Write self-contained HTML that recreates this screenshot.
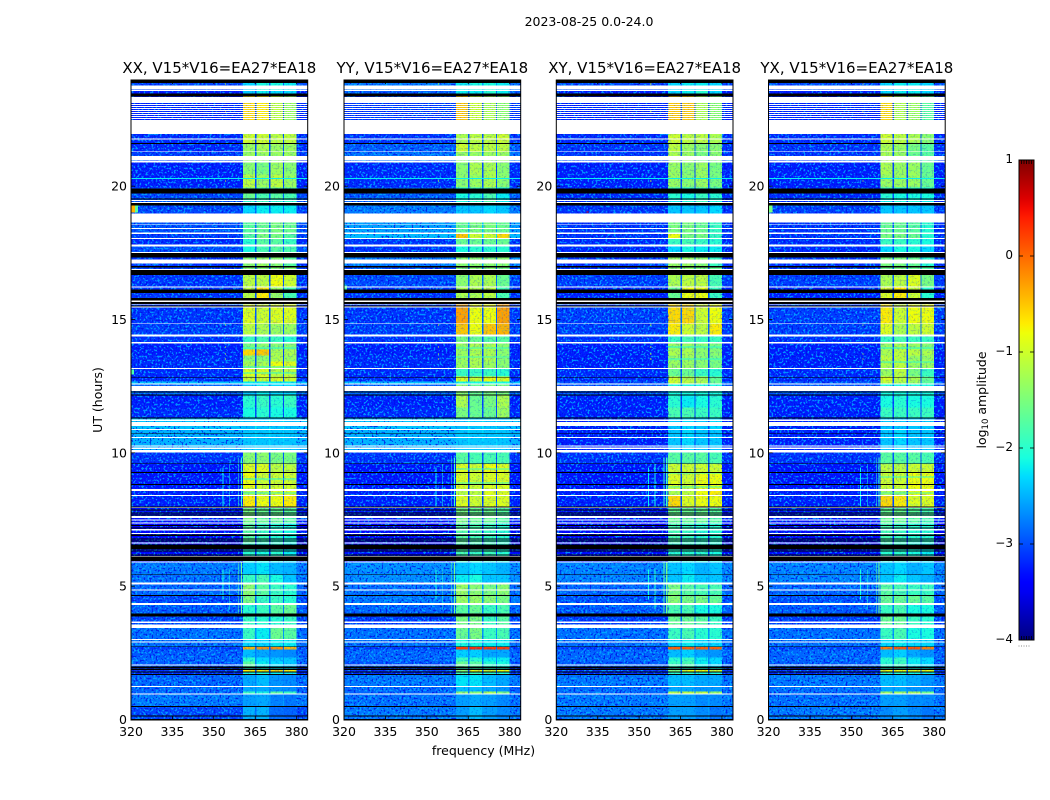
<!DOCTYPE html>
<html lang="en">
<head>
<meta charset="utf-8">
<title>2023-08-25 amplitude waterfall</title>
<style>
html,body{margin:0;padding:0;background:#fff;}
svg{display:block;font-family:"DejaVu Sans","Liberation Sans",sans-serif;fill:#000;}
</style>
</head>
<body>
<svg id="chart" xmlns="http://www.w3.org/2000/svg" width="1050" height="800" viewBox="0 0 1050 800">
<defs>
<filter id="speckle" x="0" y="0" width="1" height="1" color-interpolation-filters="sRGB">
<feTurbulence type="fractalNoise" baseFrequency="0.5" numOctaves="1" seed="7" result="n"/>
<feColorMatrix in="n" type="matrix" values="0 0 0 0 0  0 0 0 0 .72  0 0 0 0 1  9 0 0 0 -4.7" result="light"/>
<feColorMatrix in="n" type="matrix" values="0 0 0 0 0  0 0 0 0 .05  0 0 0 0 .9  0 9 0 0 -5.1" result="dark"/>
<feMerge><feMergeNode in="light"/><feMergeNode in="dark"/></feMerge>
</filter>
<linearGradient id="colorbar-gradient" x1="0" y1="1" x2="0" y2="0"></linearGradient>
</defs>
<text x="589" y="26" font-size="12.5" text-anchor="middle">2023-08-25 0.0-24.0</text>
<text x="483.5" y="755" font-size="12.5" text-anchor="middle">frequency (MHz)</text>
<text x="102" y="400" font-size="12.5" text-anchor="middle" transform="rotate(-90 102 400)">UT (hours)</text>
<text x="986" y="400" font-size="12.5" text-anchor="middle" transform="rotate(-90 986 400)">log<tspan font-size="8.5" dy="2">10</tspan><tspan dy="-2"> amplitude</tspan></text>
<g id="panels"></g>
<g id="colorbar"></g>
</svg>
<script>
// One time slot = 2.25 minutes (0.0375 h). Band rows: [start slot, background, sub-band 1..4] in log10 amplitude.
const xxBands=[
[0,-3.05,-2.5,-2.5,-2.85,-2.9],[13,-2.8,-2.6,-2.55,-2.75,-2.8],[26,-2.9,-1.9,-2.1,-1.7,-1.9],[28,-2.9,-2.55,-2.55,-2.65,-2.7],
[33,-2.9,-2.55,-2.45,-2.65,-2.7],[45,-3.2,-2.1,-2.1,-2.2,-2.2],[48,-3.1,-0.7,-0.7,-0.6,-0.7],[50,-3.2,-2.0,-2.1,-2.2,-2.2],
[52,-2.95,-1.7,-2.2,-2.3,-2.4],[58,-2.9,-2.0,-2.3,-2.4,-2.4],[62,-2.95,-2.45,-2.55,-2.65,-2.7],[70,-3.1,-0.4,-0.2,-0.2,-0.4],
[73,-2.85,-2.3,-2.3,-2.2,-2.2],[80,-2.85,-1.9,-2.2,-1.6,-1.7],[92,-3.05,-1.9,-2.0,-2.0,-1.9],[103,-2.95,-2.0,-1.9,-1.7,-1.6],
[116,-3.05,-1.5,-1.9,-1.9,-2.0],[124,-2.9,-1.4,-1.7,-1.9,-2.0],[135,-2.85,-1.9,-1.8,-2.1,-2.4],[145,-2.8,-2.35,-2.25,-2.45,-2.5],
[157,-3.35,-2.0,-2.1,-2.0,-2.2],[176,-3.4,-1.7,-1.9,-2.0,-2.1],[197,-3.3,-1.5,-1.6,-1.6,-1.7],[213,-3.25,-0.7,-0.8,-0.8,-0.7],
[224,-3.25,-1.2,-1.1,-0.9,-0.9],[231,-3.3,-0.8,-1.0,-1.0,-1.0],[247,-3.3,-0.9,-0.9,-1.1,-1.1],[256,-3.15,-1.4,-1.4,-1.5,-1.5],
[268,-2.5,-2.4,-2.4,-2.4,-2.4],[290,-2.4,-2.45,-2.4,-2.4,-2.45],[302,-3.2,-2.1,-2.0,-2.1,-2.1],[312,-3.25,-2.0,-1.9,-2.0,-1.9],
[324,-2.9,-2.4,-2.2,-2.3,-2.3],[336,-2.4,-2.2,-2.2,-2.2,-2.2],[338,-3.2,-1.0,-1.0,-0.9,-1.0],[343,-3.2,-0.9,-0.9,-1.1,-1.1],
[351,-3.2,-1.2,-1.2,-0.8,-0.9],[358,-3.2,-1.4,-1.4,-1.2,-1.3],[364,-3.25,-0.6,-0.5,-1.2,-1.2],[370,-3.25,-1.5,-1.4,-1.4,-1.4],
[376,-3.15,-1.9,-1.8,-1.9,-2.0],[385,-3.1,-1.1,-1.2,-1.3,-1.3],[396,-3.15,-0.9,-1.0,-0.9,-0.9],[421,-3.15,-1.1,-0.7,-1.3,-1.8],
[433,-3.15,-1.1,-1.1,-0.8,-1.0],[445,-3.05,-1.4,-1.4,-1.4,-1.4],[452,-3.15,-1.4,-1.3,-1.4,-1.7],[467,-3.0,-2.1,-1.8,-1.7,-1.8],
[475,-3.2,-2.0,-1.7,-1.7,-1.9],[481,-3.1,-1.7,-1.5,-1.5,-1.7],[487,-3.0,-1.7,-1.6,-1.5,-1.6],[506,-3.05,-2.3,-2.2,-2.2,-2.2],
[516,-3.0,-2.0,-1.9,-2.0,-2.0],[521,-3.05,-1.6,-1.8,-1.7,-1.8],[532,-3.25,-1.1,-1.3,-1.1,-1.3],[545,-3.25,-1.4,-1.5,-1.3,-1.4],
[558,-3.1,-1.3,-1.3,-1.3,-1.3],[568,-3.2,-1.3,-1.2,-1.3,-1.3],[576,-3.2,-1.0,-1.0,-1.1,-1.1],[599.5,-3.25,-0.6,-0.7,-1.1,-1.3],
[623,-3.25,-2.4,-2.2,-2.3,-2.3],[630,-3.05,-2.3,-2.1,-2.1,-2.2]
];
const yyBands=[
[0,-2.8,-2.6,-2.45,-2.6,-2.7],[13,-2.85,-2.6,-2.55,-2.6,-2.7],[26,-2.9,-1.4,-1.4,-1.2,-1.5],[28,-2.9,-2.45,-2.45,-2.55,-2.65],
[33,-2.8,-2.25,-2.25,-2.45,-2.55],[45,-3.2,-1.9,-1.9,-2.0,-2.1],[48,-3.1,-1.4,-0.8,-0.9,-0.8],[50,-3.2,-1.9,-1.9,-2.0,-2.1],
[52,-3.0,-1.6,-1.7,-2.0,-2.1],[58,-2.9,-1.9,-2.0,-2.2,-2.2],[62,-2.9,-2.35,-2.35,-2.55,-2.55],[70,-3.1,0.25,0.3,0.25,0.25],
[73,-2.85,-2.1,-2.1,-2.2,-2.2],[80,-2.85,-1.6,-1.5,-1.9,-1.8],[92,-3.1,-1.5,-1.5,-1.9,-1.7],[103,-2.9,-1.7,-1.6,-1.9,-1.8],
[116,-2.8,-1.3,-1.3,-1.4,-1.5],[124,-2.85,-1.3,-1.4,-1.5,-1.4],[135,-2.7,-2.2,-2.1,-2.4,-2.4],[145,-2.7,-2.4,-2.3,-2.4,-2.5],
[157,-3.35,-1.8,-1.9,-1.9,-2.0],[176,-3.4,-1.7,-1.8,-1.9,-2.0],[197,-3.3,-1.5,-1.6,-1.6,-1.7],[213,-3.25,-0.9,-1.0,-0.9,-0.9],
[224,-3.25,-1.1,-1.1,-0.9,-0.9],[231,-3.3,-0.9,-1.0,-0.9,-0.9],[247,-3.3,-0.9,-1.0,-0.8,-0.9],[256,-3.15,-1.7,-1.8,-1.8,-1.8],
[268,-2.5,-2.4,-2.4,-2.4,-2.4],[290,-2.4,-2.45,-2.4,-2.4,-2.45],[302,-3.2,-1.5,-1.6,-1.6,-1.3],[312,-3.25,-1.2,-1.6,-1.5,-1.2],
[324,-2.9,-1.4,-1.6,-1.5,-1.5],[336,-2.4,-2.1,-2.1,-2.1,-2.1],[338,-3.2,-0.9,-1.0,-0.8,-0.9],[343,-3.2,-1.9,-1.9,-1.9,-2.0],
[351,-3.2,-1.3,-1.2,-1.3,-1.4],[358,-3.2,-1.3,-1.2,-1.2,-1.4],[364,-3.25,-1.3,-1.2,-1.2,-1.4],[370,-3.25,-1.3,-1.2,-1.2,-1.4],
[376,-3.15,-1.5,-1.6,-1.7,-1.7],[385,-3.1,-0.5,-0.8,-0.5,-0.4],[396,-3.15,-0.3,-0.8,-0.8,-0.3],[421,-3.15,-1.2,-1.2,-1.1,-1.8],
[433,-3.05,-1.4,-1.2,-1.2,-1.6],[445,-3.05,-1.4,-1.4,-1.4,-1.5],[452,-2.8,-1.4,-1.4,-1.4,-1.4],[467,-3.15,-2.1,-2.0,-2.0,-2.0],
[475,-3.15,-1.6,-1.6,-1.6,-1.6],[481,-2.45,-0.5,-1.0,-1.0,-0.6],[487,-2.6,-1.6,-1.5,-1.5,-1.6],[506,-2.8,-2.4,-2.4,-2.3,-2.4],
[516,-2.95,-2.1,-2.0,-1.8,-2.2],[521,-2.95,-2.1,-2.0,-1.8,-2.2],[532,-3.2,-1.4,-1.3,-1.2,-1.4],[545,-3.2,-1.4,-1.2,-1.2,-1.4],
[558,-2.85,-1.3,-1.3,-1.3,-1.3],[568,-2.95,-1.0,-1.1,-1.1,-1.1],[576,-3.15,-1.2,-1.1,-1.1,-1.0],[599.5,-3.15,-0.5,-1.0,-1.2,-1.4],
[623,-2.95,-2.2,-2.2,-2.0,-2.2],[630,-2.8,-2.2,-2.1,-2.1,-2.2]
];
const xyBands=[
[0,-2.8,-2.6,-2.6,-2.7,-2.8],[13,-2.8,-2.6,-2.6,-2.7,-2.7],[26,-2.9,-1.1,-1.1,-1.1,-1.3],[28,-2.85,-2.55,-2.55,-2.65,-2.65],
[33,-2.8,-2.45,-2.45,-2.55,-2.55],[45,-3.2,-2.0,-2.0,-2.1,-2.1],[48,-3.1,-1.5,-0.8,-0.8,-1.0],[50,-3.2,-2.0,-2.0,-2.1,-2.1],
[52,-2.95,-1.9,-1.8,-2.2,-2.3],[58,-2.9,-2.0,-1.9,-2.2,-2.3],[62,-2.9,-2.45,-2.35,-2.55,-2.65],[70,-3.1,0.05,0.05,0.05,0.05],
[73,-2.85,-2.3,-2.2,-2.3,-2.3],[80,-2.85,-1.9,-1.8,-2.0,-2.0],[92,-3.1,-1.6,-1.6,-1.7,-1.9],[103,-2.95,-1.8,-1.8,-2.1,-2.1],
[116,-3.0,-1.4,-1.5,-1.5,-1.6],[124,-2.9,-1.5,-1.7,-1.8,-1.8],[135,-2.75,-2.4,-2.2,-2.4,-2.4],[145,-2.75,-2.4,-2.3,-2.5,-2.4],
[157,-3.35,-2.0,-2.0,-2.0,-2.1],[176,-3.4,-1.8,-1.9,-2.0,-2.0],[197,-3.3,-1.6,-1.6,-1.6,-1.7],[213,-3.25,-0.6,-0.9,-0.8,-0.8],
[224,-3.25,-1.2,-1.1,-0.8,-0.7],[231,-3.3,-0.9,-1.0,-0.8,-0.8],[247,-3.3,-1.0,-1.0,-1.0,-1.0],[256,-3.15,-1.7,-1.7,-1.7,-1.8],
[268,-3.25,-2.4,-2.3,-2.4,-2.4],[290,-3.25,-2.4,-2.3,-2.4,-2.3],[302,-3.25,-1.8,-1.8,-1.9,-1.9],[312,-3.25,-2.0,-2.2,-2.1,-2.0],
[324,-3.0,-2.1,-2.1,-2.1,-2.1],[336,-3.0,-1.0,-1.1,-1.2,-1.6],[338,-3.2,-1.0,-1.1,-1.2,-1.6],[343,-3.2,-1.6,-1.6,-1.9,-2.0],
[351,-3.25,-1.3,-1.3,-1.4,-1.5],[358,-3.25,-1.3,-1.3,-1.4,-1.5],[364,-3.25,-1.2,-1.2,-1.4,-1.4],[370,-3.25,-1.3,-1.3,-1.4,-1.5],
[376,-3.15,-1.9,-1.8,-1.9,-1.9],[385,-3.1,-0.7,-1.0,-1.1,-0.7],[396,-3.1,-0.6,-0.6,-1.0,-0.8],[421,-3.25,-1.6,-0.8,-0.8,-1.9],
[433,-3.1,-1.2,-1.1,-1.1,-1.8],[445,-3.15,-1.4,-1.4,-1.5,-1.6],[452,-3.15,-1.3,-1.3,-1.4,-1.9],[467,-3.2,-2.3,-2.1,-2.2,-2.2],
[475,-3.2,-1.9,-1.8,-1.9,-2.0],[481,-3.15,-0.8,-1.5,-1.5,-1.9],[487,-3.15,-1.5,-1.5,-1.6,-1.9],[506,-3.15,-2.4,-2.4,-2.4,-2.3],
[516,-3.2,-2.2,-2.1,-1.9,-2.1],[521,-3.2,-2.0,-2.1,-1.9,-2.0],[532,-3.25,-1.3,-1.4,-1.3,-1.5],[545,-3.25,-1.3,-1.4,-1.3,-1.5],
[558,-3.15,-1.2,-1.3,-1.5,-1.4],[568,-3.15,-1.1,-1.3,-1.4,-1.4],[576,-3.2,-1.0,-1.1,-1.1,-1.2],[599.5,-3.25,-0.5,-0.5,-1.2,-1.4],
[623,-3.25,-2.3,-2.2,-2.0,-2.3],[630,-3.05,-2.3,-2.2,-2.2,-2.3]
];
const yxBands=[
[0,-2.8,-2.7,-2.6,-2.7,-2.8],[13,-2.85,-2.6,-2.6,-2.7,-2.7],[26,-2.9,-1.3,-1.3,-1.2,-1.6],[28,-2.85,-2.55,-2.55,-2.65,-2.65],
[33,-2.8,-2.45,-2.45,-2.55,-2.65],[45,-3.2,-2.0,-2.0,-2.1,-2.2],[48,-3.1,-0.8,-0.8,-0.8,-0.8],[50,-3.2,-2.0,-2.0,-2.1,-2.2],
[52,-2.95,-2.0,-1.9,-2.2,-2.3],[58,-2.9,-2.0,-1.9,-2.2,-2.3],[62,-2.9,-2.45,-2.35,-2.55,-2.65],[70,-3.1,-0.1,0.1,0.1,-0.1],
[73,-2.85,-2.3,-2.2,-2.3,-2.3],[80,-2.85,-1.9,-1.8,-2.1,-2.1],[92,-3.1,-1.6,-1.6,-1.9,-2.0],[103,-2.95,-1.9,-1.8,-2.1,-2.1],
[116,-3.0,-1.6,-1.6,-1.6,-1.7],[124,-2.9,-1.7,-1.8,-1.9,-1.9],[135,-2.75,-2.4,-2.2,-2.4,-2.5],[145,-2.75,-2.4,-2.3,-2.5,-2.4],
[157,-3.35,-2.0,-2.0,-2.1,-2.2],[176,-3.4,-1.8,-1.9,-2.0,-2.0],[197,-3.3,-1.6,-1.6,-1.7,-1.8],[213,-3.25,-0.6,-0.7,-0.9,-0.9],
[224,-3.25,-1.2,-1.2,-0.8,-0.8],[231,-3.3,-1.0,-1.0,-0.8,-0.8],[247,-3.3,-1.1,-1.1,-1.0,-1.0],[256,-3.15,-1.7,-1.7,-1.7,-1.8],
[268,-3.25,-2.4,-2.3,-2.4,-2.4],[290,-3.25,-2.4,-2.4,-2.4,-2.4],[302,-3.25,-1.9,-1.9,-1.9,-1.9],[312,-3.25,-2.1,-2.0,-2.1,-2.1],
[324,-3.0,-2.1,-2.1,-2.1,-2.1],[336,-3.0,-1.1,-1.2,-1.3,-1.7],[338,-3.2,-0.9,-1.1,-1.2,-1.6],[343,-3.2,-1.3,-1.1,-1.5,-1.9],
[351,-3.25,-1.2,-1.1,-1.3,-1.3],[358,-3.25,-1.1,-1.1,-1.3,-1.3],[364,-3.25,-1.2,-1.1,-1.1,-1.2],[370,-3.25,-1.3,-1.2,-1.3,-1.4],
[376,-3.15,-1.9,-1.8,-1.9,-1.9],[385,-3.1,-0.9,-1.2,-1.1,-1.0],[396,-3.1,-0.7,-1.0,-0.8,-0.8],[421,-3.25,-0.9,-0.7,-1.0,-2.0],
[433,-3.1,-1.2,-1.1,-0.9,-1.5],[445,-3.15,-1.5,-1.5,-1.6,-1.7],[452,-3.15,-1.5,-1.5,-1.6,-2.0],[467,-3.2,-2.3,-2.1,-2.1,-2.3],
[475,-3.2,-1.9,-1.9,-2.0,-2.1],[481,-3.15,-1.5,-1.5,-1.6,-2.0],[487,-3.15,-1.6,-1.6,-1.7,-2.0],[506,-3.1,-2.4,-2.4,-2.4,-2.4],
[516,-3.2,-2.2,-2.1,-2.1,-2.2],[521,-3.2,-2.0,-2.1,-2.1,-2.1],[532,-3.25,-1.3,-1.3,-1.3,-1.6],[545,-3.25,-1.2,-1.3,-1.3,-1.6],
[558,-3.15,-1.2,-1.3,-1.6,-1.7],[568,-3.15,-1.2,-1.3,-1.5,-1.7],[576,-3.2,-1.0,-1.1,-1.2,-1.4],[599.5,-3.25,-0.6,-1.2,-1.3,-1.7],
[623,-3.25,-2.3,-2.2,-2.2,-2.3],[630,-3.05,-2.3,-2.2,-2.2,-2.3]
];
// Spectral features: [freq start, freq end, slot start, slot end, log10 amplitude]
const sharedFeatures=[
[320,384,540.8,541.4,-2.2],[353.2,353.5,212,252,-2.2],[355.6,355.9,212,256,-2.1],[358.9,359.2,212,262,-1.9],[359.8,360.2,212,262,-1.9],
[353.2,353.5,120,150,-2.1],[355.6,355.9,110,150,-2.0],[358.9,359.2,105,157,-1.7],[359.8,360.2,105,157,-1.6],
[354,354.4,394,395,-1],[354,354.4,384,385,-1],[354,354.4,372,373,-1],[354,354.4,365,366,-1],[354,354.4,360,361,-1],
[354,354.4,635,636,-1],[354,354.4,620,621,-0.7],[354,354.4,608,609,-0.7],[354,354.4,538,539,-1]
];
const xxFeatures=[[320,321.5,507,514,-0.4],[321.5,322.5,507,514,-1.7],[320,321,345,350,-1.8],[350,358,295,296,-0.6],
[360.5,380,371,372,-2.0],[360.5,380,352,353,-2.0],[360.5,380,346,347,-1.9],[360.5,380,240,241,-2.0],[360.5,380,226,227,-1.9]];
const yyFeatures=[[320,321,430,434,-1.8],[360.5,380,371,372,-1.9],[360.5,380,362,363,-1.8],[360.5,380,250,251,-1.9],[360.5,380,236,237,-1.9]];
const xyFeatures=[[351,358,295,296,-0.5],[331,331.6,507,508,0.6],[360.5,380,372,373,-2.0],[360.5,380,360,361,-2.0],[360.5,380,246,247,-2.0],[360.5,380,232,233,-1.9]];
const yxFeatures=[[320,321.5,507,514,-1.5],[360.5,380,371,372,-2.0],[360.5,380,357,358,-1.9],[360.5,380,242,243,-1.9],[360.5,380,226,227,-1.8]];
// Flagged time ranges: [slot start, slot end]
const whiteRanges=[
[628.5,629.8],[630.5,634.2],[616.5,622.5],[614.5,615.5],[612.5,613.5],[610.5,611.5],[608.5,609.5],[606.5,607.5],[604.5,605.5],[602.5,603.5],[600.5,601.5],
[585.5,599.5],[579.8,580.8],[567.5,568.2],[559.5,563.5],[557.2,558.8],[518.5,519.5],[516.5,517.5],[496.8,506.2],[494.5,495.2],[490.5,491.5],[485.5,487.2],[480.5,481.5],
[472.8,474.8],[466.5,467.5],[455.8,460.2],[449.5,450.5],[432.2,433.2],[417.5,418.8],[414.5,415.2],[411.8,412.8],[395.5,396.2],[382.8,384.8],[375.8,377.5],[350.5,351.5],
[335.2,336.2],[328.5,333.5],[298.5,300.2],[293.5,297.5],[289.5,290.5],[281.5,282.5],[273.2,274.2],[270.5,272.2],[266.8,269.5],[228.5,230.5],[223.5,224.5],[211.5,212.2],
[201.5,203.5],[198.8,200.2],[196.2,197.2],[189.2,190.5],[185.5,186.5],[175.8,177.2],[162.8,163.5],[156.8,157.8],[134.8,136.8],[128.8,129.8],[114.5,116.5],[96.5,97.8],
[91.5,94.8],[79.5,80.5],[77.2,78.2],[54.2,55.2],[32.5,33.5],[25.2,26.2]
];
const blackRanges=[
[636.5,640],[623.2,625.8],[575.5,576.5],[526.2,530.8],[520.2,520.8],[514.2,516.5],[462.2,466.5],[452.2,453.5],[444.5,449.5],[426.5,430.2],[419.2,421.5],[415.5,417.5],
[412.8,414.2],[341.5,342.2],[327.2,328],[324,324.8],[301.2,301.8],[285.5,286.2],[255.5,256.2],[246.5,247.5],[234.5,235.5],[212.2,213.2],[209.2,210.2],[206.2,206.8],
[203.8,204.8],[193.5,194.5],[190.8,191.8],[183.5,184.8],[180.2,181.2],[178.2,179.2],[169.8,175.2],[168.2,169.2],[163.8,164.8],[158.5,162.8],[144.5,145.2],[123.8,124.5],
[102.8,106.2],[72.5,73.2],[51.2,52.8],[49.5,50.5],[46.8,47.8],[44.8,45.5],[12.8,13.5],[2.8,3.8],[0,0.6]
];
// Sub-band frequency edges in MHz
const subBandEdges=[[360.5,365],[365.5,370],[370.5,375],[375.5,380]];
const freqTicks=[320,335,350,365,380];
const utTicks=[0,5,10,15,20];
const colorTicks=[1,0,-1,-2,-3,-4];
const panelTitles=["XX, V15*V16=EA27*EA18","YY, V15*V16=EA27*EA18","XY, V15*V16=EA27*EA18","YX, V15*V16=EA27*EA18"];

const NS="http://www.w3.org/2000/svg";
const panelLefts=[131,344,556.3,768.5];
const panelWidth=176.7,plotTop=80,plotBottom=720;
const freqMin=320,freqMax=384,slotHours=0.0375,logMin=-4,logMax=1;

function interp(points,t){
  for(let i=1;i<points.length;i++){
    if(t<=points[i][0]){
      const a=points[i-1],b=points[i];
      return a[1]+(b[1]-a[1])*(t-a[0])/(b[0]-a[0]);
    }
  }
  return points[points.length-1][1];
}
function jet(value){
  const t=Math.max(0,Math.min(1,(value-logMin)/(logMax-logMin)));
  const r=interp([[0,0],[.35,0],[.66,1],[.89,1],[1,.5]],t);
  const g=interp([[0,0],[.125,0],[.375,1],[.64,1],[.91,0],[1,0]],t);
  const b=interp([[0,.5],[.11,1],[.34,1],[.65,0],[1,0]],t);
  return "rgb("+Math.round(r*255)+","+Math.round(g*255)+","+Math.round(b*255)+")";
}
function make(tag,attrs,parent){
  const el=document.createElementNS(NS,tag);
  for(const k in attrs){el.setAttribute(k,attrs[k]);}
  parent.appendChild(el);
  return el;
}
function xScale(left,freq){return left+(freq-freqMin)/(freqMax-freqMin)*panelWidth;}
function yScaleUT(ut){return 719.5-ut*(640/24);}
function slotY(slot){return yScaleUT(slot*slotHours);}
function heatRect(group,left,f0,f1,s0,s1,value,name){
  const x0=xScale(left,f0),x1=xScale(left,f1),y0=slotY(s1),y1=slotY(s0);
  const el=make("rect",{x:x0,y:y0,width:Math.max(x1-x0,0.8),height:Math.max(y1-y0,0.8),fill:jet(value),"shape-rendering":"crispEdges"},group);
  
  
  return el;
}
function flagRect(group,left,range,color,name){
  const y0=slotY(Math.min(range[1],640)),y1=slotY(range[0]);
  const el=make("rect",{x:left,y:y0,width:panelWidth,height:Math.max(y1-y0,0.8),fill:color,"shape-rendering":"crispEdges"},group);
  
  
}
function drawPanel(root,index,bands,features){
  const left=panelLefts[index];
  const g=make("g",{},root);
  
  
  const clipId="clip-"+index;
  const clip=make("clipPath",{id:clipId},g);
  make("rect",{x:left,y:plotTop,width:panelWidth,height:plotBottom-plotTop},clip);
  const heat=make("g",{"clip-path":"url(#"+clipId+")"},g);
  
  
  bands.forEach(function(row,i){
    const s0=row[0],s1=i+1<bands.length?bands[i+1][0]:640,bg=row[1];
    heatRect(heat,left,freqMin,subBandEdges[0][0],s0,s1,bg,'background-cell');
    heatRect(heat,left,subBandEdges[3][1],freqMax,s0,s1,bg,'background-cell');
    subBandEdges.forEach(function(edge,k){
      heatRect(heat,left,edge[0],edge[1],s0,s1,row[2+k],'subband-cell');
      if(k<3){heatRect(heat,left,edge[1],subBandEdges[k+1][0],s0,s1,bg+0.2,'subband-gap-cell');}
    });
  });
  const tex1=make("rect",{x:xScale(left,freqMin),y:plotTop,width:xScale(left,subBandEdges[0][0])-xScale(left,freqMin),height:640,filter:"url(#speckle)",opacity:.75},heat);
  
  
  const tex2=make("rect",{x:xScale(left,subBandEdges[3][1]),y:plotTop,width:xScale(left,freqMax)-xScale(left,subBandEdges[3][1]),height:640,filter:"url(#speckle)",opacity:.75},heat);
  
  
  const tex3=make("rect",{x:xScale(left,subBandEdges[0][0]),y:plotTop,width:xScale(left,subBandEdges[3][1])-xScale(left,subBandEdges[0][0]),height:640,filter:"url(#speckle)",opacity:.2},heat);
  
  
  sharedFeatures.concat(features).forEach(function(f){
    heatRect(heat,left,f[0],f[1],f[2],f[3],f[4],'rfi-feature');
  });
  whiteRanges.forEach(function(r){flagRect(heat,left,r,"#fff",'blank-time-range');});
  blackRanges.forEach(function(r){flagRect(heat,left,r,"#000",'zero-time-range');});
  const frame=make("rect",{x:left,y:plotTop,width:panelWidth,height:plotBottom-plotTop,fill:"none",stroke:"#000","stroke-width":1},g);
  
  
  freqTicks.forEach(function(f){
    const x=xScale(left,f);
    const t1=make("line",{x1:x,x2:x,y1:plotBottom,y2:plotBottom-4,stroke:"#000","stroke-width":.8},g);
    
    
    const t2=make("line",{x1:x,x2:x,y1:plotTop,y2:plotTop+4,stroke:"#000","stroke-width":.8},g);
    
    
    const lab=make("text",{x:x,y:plotBottom+16,"font-size":12.5,"text-anchor":"middle"},g);
    lab.textContent=String(f);
    
    
  });
  utTicks.forEach(function(u){
    const y=yScaleUT(u);
    const t1=make("line",{x1:left,x2:left+4,y1:y,y2:y,stroke:"#000","stroke-width":.8},g);
    
    
    const t2=make("line",{x1:left+panelWidth,x2:left+panelWidth-4,y1:y,y2:y,stroke:"#000","stroke-width":.8},g);
    
    
    const lab=make("text",{x:left-4,y:y+4.5,"font-size":12.5,"text-anchor":"end"},g);
    lab.textContent=String(u);
    
    
  });
  const title=make("text",{x:left+panelWidth/2,y:73,"font-size":15,"text-anchor":"middle"},g);
  title.textContent=panelTitles[index];
  
  
}
function drawColorbar(root){
  const grad=document.getElementById("colorbar-gradient");
  for(let i=0;i<=50;i++){
    const stop=document.createElementNS(NS,"stop");
    stop.setAttribute("offset",(i*2)+"%");
    stop.setAttribute("stop-color",jet(logMin+(logMax-logMin)*i/50));
    grad.appendChild(stop);
  }
  const barX=1019,barW=15,barTop=160,barBottom=640;
  const bar=make("rect",{x:barX,y:barTop,width:barW,height:barBottom-barTop,fill:"url(#colorbar-gradient)",stroke:"#000","stroke-width":1},root);
  
  
  function cy(v){return barBottom-(v-logMin)/(logMax-logMin)*(barBottom-barTop);}
  colorTicks.forEach(function(v){
    const y=cy(v);
    const t1=make("line",{x1:barX,x2:barX+4,y1:y,y2:y,stroke:"#000","stroke-width":.8},root);
    
    
    const t2=make("line",{x1:barX+barW,x2:barX+barW-4,y1:y,y2:y,stroke:"#000","stroke-width":.8},root);
    
    
    const lab=make("text",{x:1013,y:y+3,"font-size":12,"text-anchor":"end"},root);
    lab.textContent=(v<0?"\u2212":"")+Math.abs(v);
    
    
  });
  for(let i=1;i<6;i++){
    const x=barX+i*2.5;
    const a=make("line",{x1:x,x2:x,y1:barTop,y2:barTop+4,stroke:"#000","stroke-width":.8},root);
    
    
    const b=make("line",{x1:x,x2:x,y1:barBottom,y2:barBottom-4,stroke:"#000","stroke-width":.8},root);
    
    
    const d=make("rect",{x:x-3,y:645.5,width:1,height:1,fill:"#888"},root);
    
    
  }
}
const root=document.getElementById("panels");
[[xxBands,xxFeatures],[yyBands,yyFeatures],[xyBands,xyFeatures],[yxBands,yxFeatures]].forEach(function(p,i){
  drawPanel(root,i,p[0],p[1]);
});
drawColorbar(document.getElementById("colorbar"));
</script>
</body>
</html>
